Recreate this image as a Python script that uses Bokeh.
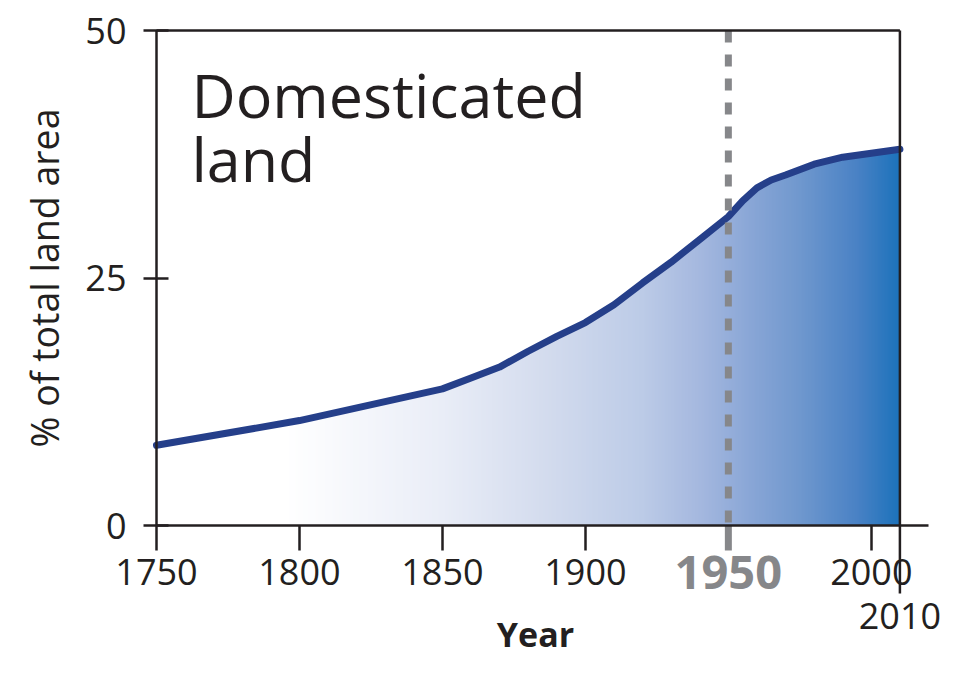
import numpy as np
from bokeh.plotting import figure
from bokeh.models import Range1d, FixedTicker, Label
from bokeh.embed import file_html
from bokeh.resources import INLINE

# ---------------- data ----------------
YEARS = [1750, 1800, 1850, 1860, 1870, 1880, 1890, 1900, 1910, 1920, 1930,
         1940, 1950, 1955, 1960, 1965, 1970, 1980, 1990, 2000, 2010]
SHARE = [8.1, 10.6, 13.8, 14.9, 16.0, 17.6, 19.1, 20.5, 22.3, 24.5, 26.6,
         28.9, 31.2, 32.8, 34.1, 34.9, 35.4, 36.5, 37.2, 37.6, 38.0]
X_TICKS = [1750, 1800, 1850, 1900, 2000]
Y_TICKS = [0, 25, 50]
MARK_YEAR = 1950
END_YEAR = 2010
TITLE_LINES = ["Domesticated", "land"]
X_LABEL = "Year"
Y_LABEL = "% of total land area"

# ---------------- style ----------------
INK = "#231f20"
GREY = "#86878a"
CURVE = "#253f8a"
FONT = "Open Sans"
GRAD_STOPS = [(1750, "#ffffff"), (1795, "#ffffff"), (1850, "#e9edf7"),
              (1885, "#d4dcee"), (1920, "#bccbe7"), (1940, "#a5b8df"),
              (1958, "#89a6d6"), (1975, "#7098ce"), (1995, "#4a82c5"),
              (2010, "#1c72bb")]

X_MIN, X_MAX = 1750, 2020
Y_MIN, Y_MAX = 0, 50
PXX = 772 / (X_MAX - X_MIN)   # pixels per year
PX = 9.9                      # pixels per y unit
# the frame fills the whole canvas; axes sit at fixed data locations
X_LO, X_HI = X_MIN - 156 / PXX, X_MAX + 39 / PXX
Y_LO, Y_HI = Y_MIN - 150 / PX, Y_MAX + 30 / PX

p = figure(width=967, height=675, output_backend="svg", toolbar_location=None,
           x_range=Range1d(X_LO, X_HI), y_range=Range1d(Y_LO, Y_HI),
           min_border_left=0, min_border_right=0, min_border_top=0,
           min_border_bottom=0)
p.outline_line_color = None
p.grid.visible = False
p.background_fill_color = "white"
p.border_fill_color = "white"

# gradient image under the curve
def hex_rgb(h):
    return [int(h[i:i + 2], 16) for i in (1, 3, 5)]

n = 520
xs = np.linspace(YEARS[0], END_YEAR, n)
sy = [s[0] for s in GRAD_STOPS]
cols = np.array([hex_rgb(s[1]) for s in GRAD_STOPS], dtype=float)
rgba = np.zeros((1, n, 4), dtype=np.uint8)
for k in range(3):
    rgba[0, :, k] = np.round(np.interp(xs, sy, cols[:, k])).astype(np.uint8)
rgba[0, :, 3] = 255
img = rgba.view(dtype=np.uint32).reshape((1, n))
p.image_rgba(image=[img], x=YEARS[0], y=Y_MIN, dw=END_YEAR - YEARS[0], dh=Y_MAX - Y_MIN)

# mask above the curve
p.varea(x=YEARS, y1=SHARE, y2=Y_MAX, fill_color="white")

# the curve
p.line(YEARS, SHARE, line_width=7, line_color=CURVE, line_cap="round", line_join="round")

# 1950 dashed marker (dashed in the chart, solid as its tick)
p.segment(x0=[MARK_YEAR], y0=[Y_MAX], x1=[MARK_YEAR], y1=[Y_MIN],
          line_color=GREY, line_width=7, line_dash="12 12")
p.segment(x0=[MARK_YEAR], y0=[Y_MIN], x1=[MARK_YEAR], y1=[Y_MIN - 25 / PX],
          line_color=GREY, line_width=7)

# box: top edge, and right edge continuing as the long 2010 tick
p.segment(x0=[YEARS[0]], y0=[Y_MAX], x1=[END_YEAR], y1=[Y_MAX],
          line_color=INK, line_width=2.5)
p.segment(x0=[END_YEAR], y0=[Y_MAX], x1=[END_YEAR], y1=[Y_MIN - 68 / PX],
          line_color=INK, line_width=2.5)

# axes
xa = p.xaxis[0]
xa.fixed_location = Y_MIN
xa.bounds = (X_MIN, X_MAX)
xa.ticker = FixedTicker(ticks=X_TICKS)
xa.axis_line_color = INK
xa.axis_line_width = 2.5
xa.major_tick_line_color = INK
xa.major_tick_line_width = 2.5
xa.major_tick_in = 0
xa.major_tick_out = 25
xa.minor_tick_line_color = None
xa.major_label_text_font = FONT
xa.major_label_text_font_size = "36px"
xa.major_label_text_color = INK
xa.major_label_standoff = 8

ya = p.yaxis[0]
ya.fixed_location = X_MIN
ya.bounds = (Y_MIN, Y_MAX)
ya.ticker = FixedTicker(ticks=Y_TICKS)
ya.axis_line_color = INK
ya.axis_line_width = 2.5
ya.major_tick_line_color = INK
ya.major_tick_line_width = 2.5
ya.major_tick_in = 12
ya.major_tick_out = 13
ya.minor_tick_line_color = None
ya.major_label_text_font = FONT
ya.major_label_text_font_size = "36px"
ya.major_label_text_color = INK
ya.major_label_standoff = 17

# axis titles
p.add_layout(Label(x=X_MIN + (535 - 156) / PXX, y=Y_MIN - 108 / PX, text=X_LABEL,
                   text_align="center", text_baseline="alphabetic",
                   text_font=FONT, text_font_size="34px", text_font_style="bold",
                   text_color=INK))
p.add_layout(Label(x=X_MIN - (156 - 44) / PXX, y=(Y_MIN + Y_MAX) / 2, text=Y_LABEL,
                   angle=90, angle_units="deg",
                   text_align="center", text_baseline="alphabetic",
                   text_font=FONT, text_font_size="37.5px", text_color=INK))

# special tick labels
p.add_layout(Label(x=MARK_YEAR, y=Y_MIN - 47 / PX, text=str(MARK_YEAR),
                   text_align="center", text_baseline="alphabetic",
                   text_font=FONT, text_font_size="47px", text_font_style="bold",
                   text_color=GREY))
p.add_layout(Label(x=END_YEAR, y=Y_MIN - 90 / PX, text=str(END_YEAR),
                   text_align="center", text_baseline="alphabetic",
                   text_font=FONT, text_font_size="36px", text_color=INK))

# title inside the chart
p.add_layout(Label(x=1762.2, y=41.08 + 24 / PX, text=TITLE_LINES[0], text_font=FONT,
                   text_font_size="61px", text_color=INK, text_baseline="alphabetic"))
p.add_layout(Label(x=1762.2, y=34.68 + 24 / PX, text=TITLE_LINES[1], text_font=FONT,
                   text_font_size="61px", text_color=INK, text_baseline="alphabetic"))

open("out.html", "w").write(file_html(p, INLINE))
